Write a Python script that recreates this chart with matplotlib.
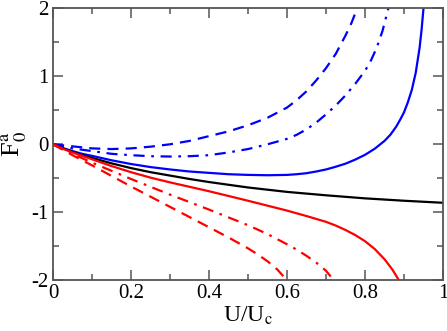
import matplotlib
matplotlib.use("Agg")
import matplotlib.pyplot as plt
from matplotlib.ticker import MultipleLocator

plt.rcParams['font.family'] = ['Liberation Serif', 'DejaVu Serif']
plt.rcParams['mathtext.fontset'] = 'stix'

# Black solid
x_black = [0.0, 0.025, 0.05, 0.075, 0.1, 0.15, 0.2, 0.25, 0.3, 0.35, 0.4, 0.5, 0.6, 0.7, 0.8, 0.9, 1.0]
y_black = [0.0, -0.06, -0.11, -0.16, -0.20, -0.28, -0.35, -0.41, -0.46, -0.51, -0.555, -0.635, -0.70,
           -0.75, -0.795, -0.83, -0.86]

# Blue solid
x_blue_solid = [0.0, 0.025, 0.05, 0.075, 0.1, 0.15, 0.2, 0.25, 0.3, 0.35, 0.4, 0.45, 0.5, 0.55, 0.6,
                0.625, 0.65, 0.675, 0.7, 0.725, 0.75, 0.775, 0.8, 0.825, 0.85, 0.865, 0.88, 0.89,
                0.9, 0.91, 0.92, 0.93, 0.94, 0.945, 0.95]
y_blue_solid = [0.0, -0.055, -0.10, -0.14, -0.17, -0.235, -0.29, -0.335, -0.37, -0.40, -0.42, -0.44,
                -0.45, -0.455, -0.45, -0.44, -0.425, -0.40, -0.37, -0.33, -0.285, -0.225, -0.155,
                -0.065, 0.05, 0.14, 0.26, 0.36, 0.47, 0.62, 0.80, 1.05, 1.42, 1.68, 2.0]

# Blue dash-dot
x_blue_dd = [0.0, 0.05, 0.1, 0.15, 0.2, 0.25, 0.3, 0.35, 0.4, 0.45, 0.5, 0.55, 0.6, 0.625, 0.65,
             0.675, 0.7, 0.725, 0.75, 0.775, 0.8, 0.815, 0.83, 0.845, 0.86]
y_blue_dd = [0.0, -0.06, -0.10, -0.14, -0.16, -0.175, -0.18, -0.175, -0.16, -0.12, -0.07, 0.0, 0.08,
             0.14, 0.22, 0.32, 0.44, 0.57, 0.72, 0.89, 1.08, 1.23, 1.42, 1.67, 2.0]

# Blue dashed
x_blue_dash = [0.0, 0.05, 0.1, 0.15, 0.2, 0.25, 0.3, 0.35, 0.4, 0.45, 0.5, 0.55, 0.6, 0.625, 0.65,
               0.675, 0.7, 0.725, 0.75, 0.765, 0.78]
y_blue_dash = [0.0, -0.03, -0.06, -0.07, -0.06, -0.035, 0.0, 0.05, 0.12, 0.19, 0.28, 0.39, 0.54,
               0.65, 0.78, 0.94, 1.12, 1.33, 1.60, 1.78, 2.0]

# Red solid
x_red_solid = [0.0, 0.025, 0.05, 0.075, 0.1, 0.15, 0.2, 0.25, 0.3, 0.4, 0.5, 0.6, 0.65, 0.7, 0.725,
               0.75, 0.775, 0.8, 0.825, 0.85, 0.87, 0.887]
y_red_solid = [0.0, -0.065, -0.12, -0.17, -0.22, -0.32, -0.41, -0.49, -0.56, -0.69, -0.83, -0.975,
               -1.055, -1.14, -1.195, -1.26, -1.335, -1.425, -1.54, -1.69, -1.84, -2.0]

# Red dash-dot
x_red_dd = [0.0, 0.05, 0.1, 0.2, 0.3, 0.4, 0.5, 0.55, 0.6, 0.625, 0.65, 0.675, 0.7, 0.72]
y_red_dd = [0.0, -0.14, -0.27, -0.51, -0.74, -0.96, -1.19, -1.32, -1.47, -1.55, -1.64, -1.74,
            -1.86, -2.0]

# Red dashed
x_red_dash = [0.0, 0.05, 0.1, 0.2, 0.3, 0.4, 0.45, 0.5, 0.525, 0.55, 0.575, 0.6]
y_red_dash = [0.0, -0.16, -0.31, -0.62, -0.92, -1.22, -1.37, -1.53, -1.62, -1.72, -1.84, -2.0]

fig = plt.figure(figsize=(4.47, 3.31), dpi=100)
ax = fig.add_axes([53/447, 1 - 280.3/331, 390/447, 272/331])

lw = 1.6
dash = (0, (5, 3.2))
dashdot = (0, (5, 3, 1.2, 3))
ax.plot(x_blue_dash, y_blue_dash, color='#0000ff', lw=lw, linestyle=dash)
ax.plot(x_blue_dd, y_blue_dd, color='#0000ff', lw=lw, linestyle=dashdot)
ax.plot(x_blue_solid, y_blue_solid, color='#0000ff', lw=lw)
ax.plot(x_black, y_black, color='black', lw=lw)
ax.plot(x_red_solid, y_red_solid, color='#ff0000', lw=lw)
ax.plot(x_red_dd, y_red_dd, color='#ff0000', lw=lw, linestyle=dashdot)
ax.plot(x_red_dash, y_red_dash, color='#ff0000', lw=lw, linestyle=dash)

ax.set_xlim(0, 1)
ax.set_ylim(-2, 2)
ax.xaxis.set_minor_locator(MultipleLocator(0.1))
ax.yaxis.set_minor_locator(MultipleLocator(0.5))
ax.set_xticks([0, 0.2, 0.4, 0.6, 0.8, 1.0])
ax.set_xticklabels(['0', '0.2', '0.4', '0.6', '0.8', '1'])
ax.set_yticks([-2, -1, 0, 1, 2])
ax.set_yticklabels(['-2', '-1', '0', '1', '2'])

spine_col = '#555555'
for s in ax.spines.values():
    s.set_color(spine_col)
    s.set_linewidth(1.3)
ax.tick_params(which='both', direction='in', top=True, right=True, color=spine_col,
               labelsize=15, width=1.1)
ax.tick_params(which='major', length=7, pad=3)
ax.tick_params(which='minor', length=4)

ax.set_xlabel(r'U/U$_{\mathrm{c}}$', fontsize=17, labelpad=1)
ax.set_ylabel(r'F$_{0}^{\mathrm{a}}$', fontsize=19, labelpad=2)

fig.savefig('out.png', dpi=100)
